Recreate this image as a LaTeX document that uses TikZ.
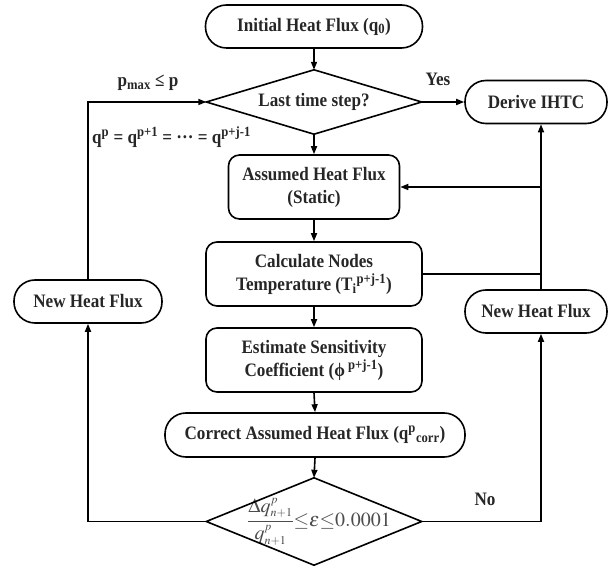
\documentclass[tikz,border=0pt]{standalone}
\usepackage{mathptmx}
\usepackage{fontspec}
\setmainfont{Liberation Serif}[FakeStretch=0.9]
\usetikzlibrary{arrows.meta,calc}
\newcommand\boxfont{\fontsize{19}{23}\selectfont\bfseries}
\newcommand\mathfont{\fontsize{20}{22}\selectfont}
\newcommand\tinyscr[1]{{\scriptscriptstyle #1}}
\begin{document}
\begin{tikzpicture}[x=1pt,y=-1pt,
  base/.style={draw, line width=1.6pt, align=center, inner sep=0pt, text=black!85, font=\boxfont},
  pill/.style={base, rounded corners=21pt},
  rbox/.style={base, rounded corners=11pt},
  frame/.style={inner sep=0pt, align=center, text=black!85, font=\boxfont},
  outline/.style={line width=1.6pt, line join=miter},
  conn/.style={line width=1.6pt},
  arr/.style={conn, -{Triangle[length=8pt,width=6pt]}},
  lbl/.style={inner sep=0pt, text=black!85, font=\boxfont}]
\useasboundingbox (0,0) rectangle (608,569);

% main column
\node[pill, minimum width=217pt, minimum height=43pt] (init) at (314,26.5) {Initial Heat Flux (q\textsubscript{0})};
\node[frame, minimum width=215pt, minimum height=64pt] (last) at (314,102) {Last time step?};
\draw[outline] (last.west) -- (last.north) -- (last.east) -- (last.south) -- cycle;
\node[pill, minimum width=142pt, minimum height=43pt] (ihtc) at (536,102) {Derive IHTC};
\node[rbox, minimum width=171pt, minimum height=64pt] (assumed) at (314,187) {Assumed Heat Flux\\(Static)};
\node[rbox, minimum width=216pt, minimum height=64pt] (calc) at (314,274) {Calculate Nodes\\Temperature (T\textsubscript{i}\textsuperscript{p+j-1})};
\node[rbox, minimum width=216pt, minimum height=64pt] (sens) at (314,360) {Estimate Sensitivity\\Coefficient (ϕ\,\textsuperscript{p+j-1})};
\node[pill, minimum width=300pt, minimum height=44pt] (corr) at (315,435) {Correct Assumed Heat Flux (q\textsuperscript{p}\textsubscript{corr})};
\node[frame, minimum width=215pt, minimum height=87pt, font=\mathfont, text=black!70] (conv) at (314,521.5)
  {\hspace*{10pt}$\displaystyle\frac{\Delta q^{\tinyscr{p}}_{\tinyscr{n+1}}}{q^{\tinyscr{p}}_{\tinyscr{n+1}}}{\le}\varepsilon{\le}0.0001$};
\draw[outline] (conv.west) -- (conv.north) -- (conv.east) -- (conv.south) -- cycle;

% side boxes
\node[pill, minimum width=148pt, minimum height=43pt] (newl) at (88,301.5) {New Heat Flux};
\node[pill, minimum width=142pt, minimum height=43pt] (newr) at (536,311.5) {New Heat Flux};

% rails
\coordinate (rrail) at (541,0);

% connectors
\draw[arr] (init.south) -- (last.north);
\draw[arr] (last.east) -- (ihtc.west);
\draw[arr] (last.south) -- (assumed.north);
\draw[arr] (assumed.south) -- (calc.north);
\draw[arr] (calc.south) -- (sens.north);
\draw[arr] (sens.south) -- (corr.north);
\draw[arr] (corr.south) -- (conv.north);
\draw[arr] (conv.west) -| (newl.south);
\draw[arr] (newl.north) |- (last.west);
\draw[arr] (conv.east) -| (rrail |- newr.south);
\draw[arr] (rrail |- newr.north) -- (rrail |- ihtc.south);
\draw[arr] (rrail |- assumed.east) -- (assumed.east);
\draw[conn] (calc.east) -- (rrail |- calc.east);

% labels
\node[lbl] (yes) at (438,79) {Yes};
\node[lbl] (no) at (485,499) {No};
\node[lbl] (pmax) at (148,83) {p\textsubscript{max} ≤ p};
\node[lbl, anchor=west] (qeq) at (92,137) {q\textsuperscript{p} = q\textsuperscript{p+1} = ··· = q\textsuperscript{p+j-1}};
\end{tikzpicture}
\end{document}
